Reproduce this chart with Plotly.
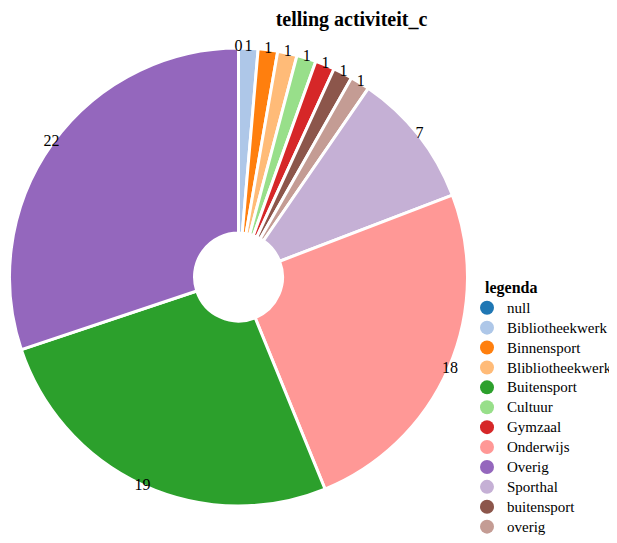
import plotly.graph_objects as go

# ---- data ----
categories = ["null", "Bibliotheekwerk", "Binnensport", "Blibliotheekwerk", "Buitensport",
              "Cultuur", "Gymzaal", "Onderwijs", "Overig", "Sporthal", "buitensport", "overig"]
counts = [0, 1, 1, 1, 19, 1, 1, 18, 22, 7, 1, 1]
colors = ["#1f77b4", "#aec7e8", "#ff7f0e", "#ffbb78", "#2ca02c", "#98df8a",
          "#d62728", "#ff9896", "#9467bd", "#c5b0d5", "#8c564b", "#c49c94"]

title_text = "telling activiteit_c"
legend_title = "legenda"

# slices ordered by count ascending (stable), clockwise from 12 o'clock
order = sorted(range(len(counts)), key=lambda i: counts[i])
total = sum(counts)
thetas, widths, vals, cols = [], [], [], []
cum = 0
for i in order:
    thetas.append((cum + counts[i] / 2.0) * 360.0 / total)
    widths.append(counts[i] * 360.0 / total)
    vals.append(counts[i])
    cols.append(colors[i])
    cum += counts[i]

SERIF = "Liberation Serif"

# page body has an 8px margin -> figure is offset by 8px
OFF = 8
W, H = 617, 543 - OFF

# pie geometry (screen px): centre, outer radius, inner radius
CX, CY = 238.5 - OFF, 277 - OFF
HALF = CX                     # polar half-size in px (domain starts at 0)
R_OUT, R_IN = 229.0, 44.0
outer = R_OUT / HALF
inner = R_IN / HALF

fig = go.Figure()
fig.add_trace(go.Barpolar(
    theta=thetas, width=widths, r=[outer - inner] * len(thetas), base=inner,
    marker=dict(color=cols, line=dict(color="white", width=3)),
    showlegend=False, hoverinfo="skip",
))
fig.add_trace(go.Scatterpolar(
    theta=thetas, r=[0.9995] * len(thetas), mode="text",
    text=[str(v) for v in vals],
    textfont=dict(family=SERIF, size=16, color="#000"),
    showlegend=False, cliponaxis=False, hoverinfo="skip",
))
for c, col in zip(categories, colors):
    fig.add_trace(go.Scatterpolar(
        r=[None], theta=[None], mode="markers",
        name='<span style="font-size:15px">' + c + '</span>',
        marker=dict(color=col, size=14, symbol="circle"),
    ))

fig.update_layout(
    width=W, height=H,
    margin=dict(l=0, r=0, t=0, b=0, autoexpand=False),
    paper_bgcolor="white", plot_bgcolor="white",
    title=dict(text="<b>" + title_text + "</b>", x=(351.5 - OFF) / W, xanchor="center",
               y=1 - (18.5 - OFF) / H, yanchor="middle",
               font=dict(family=SERIF, size=20, color="#000")),
    polar=dict(
        domain=dict(x=[0, 2 * HALF / W],
                    y=[1 - (CY + HALF) / H, 1 - (CY - HALF) / H]),
        bgcolor="rgba(0,0,0,0)",
        radialaxis=dict(range=[0, 1], visible=False),
        angularaxis=dict(rotation=90, direction="clockwise", visible=False),
        bargap=0,
    ),
    legend=dict(
        x=(467 - OFF) / W, xanchor="left", y=1 - (272 - OFF) / H, yanchor="top",
        title=dict(text="\u00a0\u00a0\u00a0\u00a0<b>" + legend_title + "</b>",
                   font=dict(family=SERIF, size=16, color="#000")),
        font=dict(family=SERIF, size=13, color="#000"),
        bgcolor="rgba(0,0,0,0)",
    ),
)

fig.write_html("out.html")
